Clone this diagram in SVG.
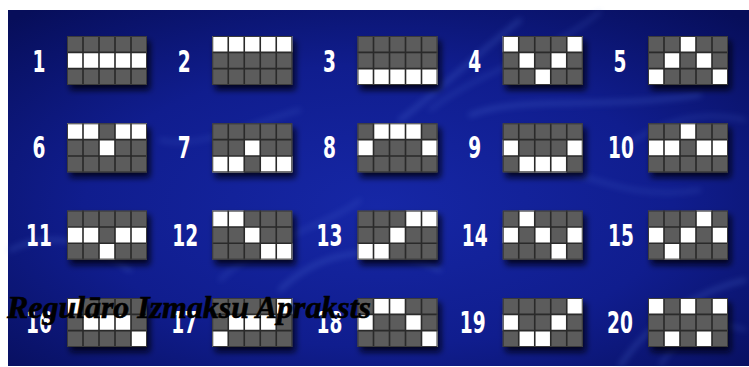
<svg xmlns="http://www.w3.org/2000/svg" xmlns:xlink="http://www.w3.org/1999/xlink" width="749" height="367" viewBox="0 0 749 367">
<style>
.cell{fill:#5b5b5b}
.on{fill:#ffffff}
.num{font-family:"DejaVu Sans",sans-serif;font-weight:bold;font-size:30px;fill:#ffffff;text-anchor:middle}
.title{font-family:"Liberation Serif","Times New Roman",serif;font-weight:bold;font-style:italic;font-size:32px;fill:#000000;stroke:#000000;stroke-width:0.6}
.smoke{fill:none;stroke:#5c7ee0;stroke-linecap:round}
</style>
<defs>
<radialGradient id="bg" cx="0.5" cy="0.55" r="0.72">
<stop offset="0" stop-color="#1627a6"/>
<stop offset="0.55" stop-color="#101d8e"/>
<stop offset="1" stop-color="#070e5a"/>
</radialGradient>
<filter id="blur" x="-20%" y="-20%" width="140%" height="140%"><feGaussianBlur stdDeviation="3"/></filter>
<filter id="shadow" x="-20%" y="-20%" width="150%" height="160%">
<feGaussianBlur in="SourceAlpha" stdDeviation="3"/>
<feOffset dx="3" dy="5" result="b"/>
<feFlood flood-color="#000010" flood-opacity="0.85"/>
<feComposite in2="b" operator="in"/>
<feMerge><feMergeNode/><feMergeNode in="SourceGraphic"/></feMerge>
</filter>
<g id="base">
<rect x="0" y="0" width="80" height="49" class="cell"/>
</g>
<g id="lines" fill="none" stroke="#2a2a2a" stroke-width="1.6">
<path d="M16 0V49M32 0V49M48 0V49M64 0V49M0 16.33H80M0 32.67H80"/>
<rect x="0.5" y="0.5" width="79" height="48" stroke="#3a3a3a" stroke-width="1"/>
</g>
</defs>
<rect width="749" height="367" fill="#ffffff"/>
<rect x="8" y="10" width="741" height="356" fill="url(#bg)"/>
<g id="smoke" filter="url(#blur)" opacity="0.4">
<path class="smoke" stroke-width="3" d="M400 120 C 440 90, 470 60, 520 20"/>
<path class="smoke" stroke-width="2" d="M430 110 C 480 70, 540 60, 600 12"/>
<path class="smoke" stroke-width="3" d="M470 115 C 520 95, 600 110, 700 95"/>
<path class="smoke" stroke-width="2" d="M620 150 C 660 120, 700 110, 745 120"/>
<path class="smoke" stroke-width="3" d="M280 290 C 320 250, 380 240, 440 270"/>
<path class="smoke" stroke-width="2" d="M220 280 C 260 240, 330 225, 360 200"/>
<path class="smoke" stroke-width="3" d="M620 366 C 650 320, 700 290, 745 280"/>
<path class="smoke" stroke-width="2" d="M660 366 C 680 330, 720 320, 745 330"/>
<path class="smoke" stroke-width="3" d="M10 250 C 50 230, 90 240, 130 270"/>
<path class="smoke" stroke-width="2" d="M160 140 C 200 150, 260 120, 300 110"/>
<path class="smoke" stroke-width="2" d="M560 170 C 600 180, 640 200, 700 190"/>
</g>

<g id="line1" transform="translate(67,36)"><text class="num" transform="translate(-28,36) scale(0.62,1)">1</text><g filter="url(#shadow)"><use xlink:href="#base"/><rect class="on" x="0" y="16.33" width="80" height="16.33"/><use xlink:href="#lines"/></g></g>
<g id="line2" transform="translate(212.25,36)"><text class="num" transform="translate(-28,36) scale(0.62,1)">2</text><g filter="url(#shadow)"><use xlink:href="#base"/><rect class="on" x="0" y="0" width="80" height="16.33"/><use xlink:href="#lines"/></g></g>
<g id="line3" transform="translate(357.5,36)"><text class="num" transform="translate(-28,36) scale(0.62,1)">3</text><g filter="url(#shadow)"><use xlink:href="#base"/><rect class="on" x="0" y="32.67" width="80" height="16.33"/><use xlink:href="#lines"/></g></g>
<g id="line4" transform="translate(502.75,36)"><text class="num" transform="translate(-28,36) scale(0.62,1)">4</text><g filter="url(#shadow)"><use xlink:href="#base"/><rect class="on" x="0" y="0" width="16" height="16.33"/><rect class="on" x="16" y="16.33" width="16" height="16.33"/><rect class="on" x="32" y="32.67" width="16" height="16.33"/><rect class="on" x="48" y="16.33" width="16" height="16.33"/><rect class="on" x="64" y="0" width="16" height="16.33"/><use xlink:href="#lines"/></g></g>
<g id="line5" transform="translate(648,36)"><text class="num" transform="translate(-28,36) scale(0.62,1)">5</text><g filter="url(#shadow)"><use xlink:href="#base"/><rect class="on" x="0" y="32.67" width="16" height="16.33"/><rect class="on" x="16" y="16.33" width="16" height="16.33"/><rect class="on" x="32" y="0" width="16" height="16.33"/><rect class="on" x="48" y="16.33" width="16" height="16.33"/><rect class="on" x="64" y="32.67" width="16" height="16.33"/><use xlink:href="#lines"/></g></g>

<g id="line6" transform="translate(67,123.3)"><text class="num" transform="translate(-28,35) scale(0.62,1)">6</text><g filter="url(#shadow)"><use xlink:href="#base"/><rect class="on" x="0" y="0" width="32" height="16.33"/><rect class="on" x="32" y="16.33" width="16" height="16.33"/><rect class="on" x="48" y="0" width="32" height="16.33"/><use xlink:href="#lines"/></g></g>
<g id="line7" transform="translate(212.25,123.3)"><text class="num" transform="translate(-28,35) scale(0.62,1)">7</text><g filter="url(#shadow)"><use xlink:href="#base"/><rect class="on" x="0" y="32.67" width="32" height="16.33"/><rect class="on" x="32" y="16.33" width="16" height="16.33"/><rect class="on" x="48" y="32.67" width="32" height="16.33"/><use xlink:href="#lines"/></g></g>
<g id="line8" transform="translate(357.5,123.3)"><text class="num" transform="translate(-28,35) scale(0.62,1)">8</text><g filter="url(#shadow)"><use xlink:href="#base"/><rect class="on" x="0" y="16.33" width="16" height="16.33"/><rect class="on" x="16" y="0" width="48" height="16.33"/><rect class="on" x="64" y="16.33" width="16" height="16.33"/><use xlink:href="#lines"/></g></g>
<g id="line9" transform="translate(502.75,123.3)"><text class="num" transform="translate(-28,35) scale(0.62,1)">9</text><g filter="url(#shadow)"><use xlink:href="#base"/><rect class="on" x="0" y="16.33" width="16" height="16.33"/><rect class="on" x="16" y="32.67" width="48" height="16.33"/><rect class="on" x="64" y="16.33" width="16" height="16.33"/><use xlink:href="#lines"/></g></g>
<g id="line10" transform="translate(648,123.3)"><text class="num" transform="translate(-27,35) scale(0.62,1)">10</text><g filter="url(#shadow)"><use xlink:href="#base"/><rect class="on" x="0" y="16.33" width="32" height="16.33"/><rect class="on" x="32" y="0" width="16" height="16.33"/><rect class="on" x="48" y="16.33" width="32" height="16.33"/><use xlink:href="#lines"/></g></g>

<g id="line11" transform="translate(67,210.6)"><text class="num" transform="translate(-28,35) scale(0.62,1)">11</text><g filter="url(#shadow)"><use xlink:href="#base"/><rect class="on" x="0" y="16.33" width="32" height="16.33"/><rect class="on" x="32" y="32.67" width="16" height="16.33"/><rect class="on" x="48" y="16.33" width="32" height="16.33"/><use xlink:href="#lines"/></g></g>
<g id="line12" transform="translate(212.25,210.6)"><text class="num" transform="translate(-27,35) scale(0.62,1)">12</text><g filter="url(#shadow)"><use xlink:href="#base"/><rect class="on" x="0" y="0" width="32" height="16.33"/><rect class="on" x="32" y="16.33" width="16" height="16.33"/><rect class="on" x="48" y="32.67" width="32" height="16.33"/><use xlink:href="#lines"/></g></g>
<g id="line13" transform="translate(357.5,210.6)"><text class="num" transform="translate(-28,35) scale(0.62,1)">13</text><g filter="url(#shadow)"><use xlink:href="#base"/><rect class="on" x="0" y="32.67" width="32" height="16.33"/><rect class="on" x="32" y="16.33" width="16" height="16.33"/><rect class="on" x="48" y="0" width="32" height="16.33"/><use xlink:href="#lines"/></g></g>
<g id="line14" transform="translate(502.75,210.6)"><text class="num" transform="translate(-28,35) scale(0.62,1)">14</text><g filter="url(#shadow)"><use xlink:href="#base"/><rect class="on" x="0" y="16.33" width="16" height="16.33"/><rect class="on" x="16" y="0" width="16" height="16.33"/><rect class="on" x="32" y="16.33" width="16" height="16.33"/><rect class="on" x="48" y="32.67" width="16" height="16.33"/><rect class="on" x="64" y="16.33" width="16" height="16.33"/><use xlink:href="#lines"/></g></g>
<g id="line15" transform="translate(648,210.6)"><text class="num" transform="translate(-27,35) scale(0.62,1)">15</text><g filter="url(#shadow)"><use xlink:href="#base"/><rect class="on" x="0" y="16.33" width="16" height="16.33"/><rect class="on" x="16" y="32.67" width="16" height="16.33"/><rect class="on" x="32" y="16.33" width="16" height="16.33"/><rect class="on" x="48" y="0" width="16" height="16.33"/><rect class="on" x="64" y="16.33" width="16" height="16.33"/><use xlink:href="#lines"/></g></g>

<g id="line16" transform="translate(67,298)"><text class="num" transform="translate(-28,35) scale(0.62,1)">16</text><g filter="url(#shadow)"><use xlink:href="#base"/><rect class="on" x="0" y="0" width="16" height="16.33"/><rect class="on" x="16" y="16.33" width="48" height="16.33"/><rect class="on" x="64" y="32.67" width="16" height="16.33"/><use xlink:href="#lines"/></g></g>
<g id="line17" transform="translate(212.25,298)"><text class="num" transform="translate(-28,35) scale(0.62,1)">17</text><g filter="url(#shadow)"><use xlink:href="#base"/><rect class="on" x="0" y="32.67" width="16" height="16.33"/><rect class="on" x="16" y="16.33" width="48" height="16.33"/><rect class="on" x="64" y="0" width="16" height="16.33"/><use xlink:href="#lines"/></g></g>
<g id="line18" transform="translate(357.5,298)"><text class="num" transform="translate(-28,35) scale(0.62,1)">18</text><g filter="url(#shadow)"><use xlink:href="#base"/><rect class="on" x="0" y="16.33" width="16" height="16.33"/><rect class="on" x="16" y="0" width="32" height="16.33"/><rect class="on" x="48" y="16.33" width="16" height="16.33"/><rect class="on" x="64" y="32.67" width="16" height="16.33"/><use xlink:href="#lines"/></g></g>
<g id="line19" transform="translate(502.75,298)"><text class="num" transform="translate(-30,35) scale(0.62,1)">19</text><g filter="url(#shadow)"><use xlink:href="#base"/><rect class="on" x="0" y="16.33" width="16" height="16.33"/><rect class="on" x="16" y="32.67" width="32" height="16.33"/><rect class="on" x="48" y="16.33" width="16" height="16.33"/><rect class="on" x="64" y="0" width="16" height="16.33"/><use xlink:href="#lines"/></g></g>
<g id="line20" transform="translate(648,298)"><text class="num" transform="translate(-28,35) scale(0.62,1)">20</text><g filter="url(#shadow)"><use xlink:href="#base"/><rect class="on" x="0" y="0" width="16" height="16.33"/><rect class="on" x="16" y="32.67" width="16" height="16.33"/><rect class="on" x="32" y="0" width="16" height="16.33"/><rect class="on" x="48" y="32.67" width="16" height="16.33"/><rect class="on" x="64" y="0" width="16" height="16.33"/><use xlink:href="#lines"/></g></g>

<text id="title" class="title" x="7" y="318" textLength="364" lengthAdjust="spacingAndGlyphs">Regulāro Izmaksu Apraksts</text>
</svg>
